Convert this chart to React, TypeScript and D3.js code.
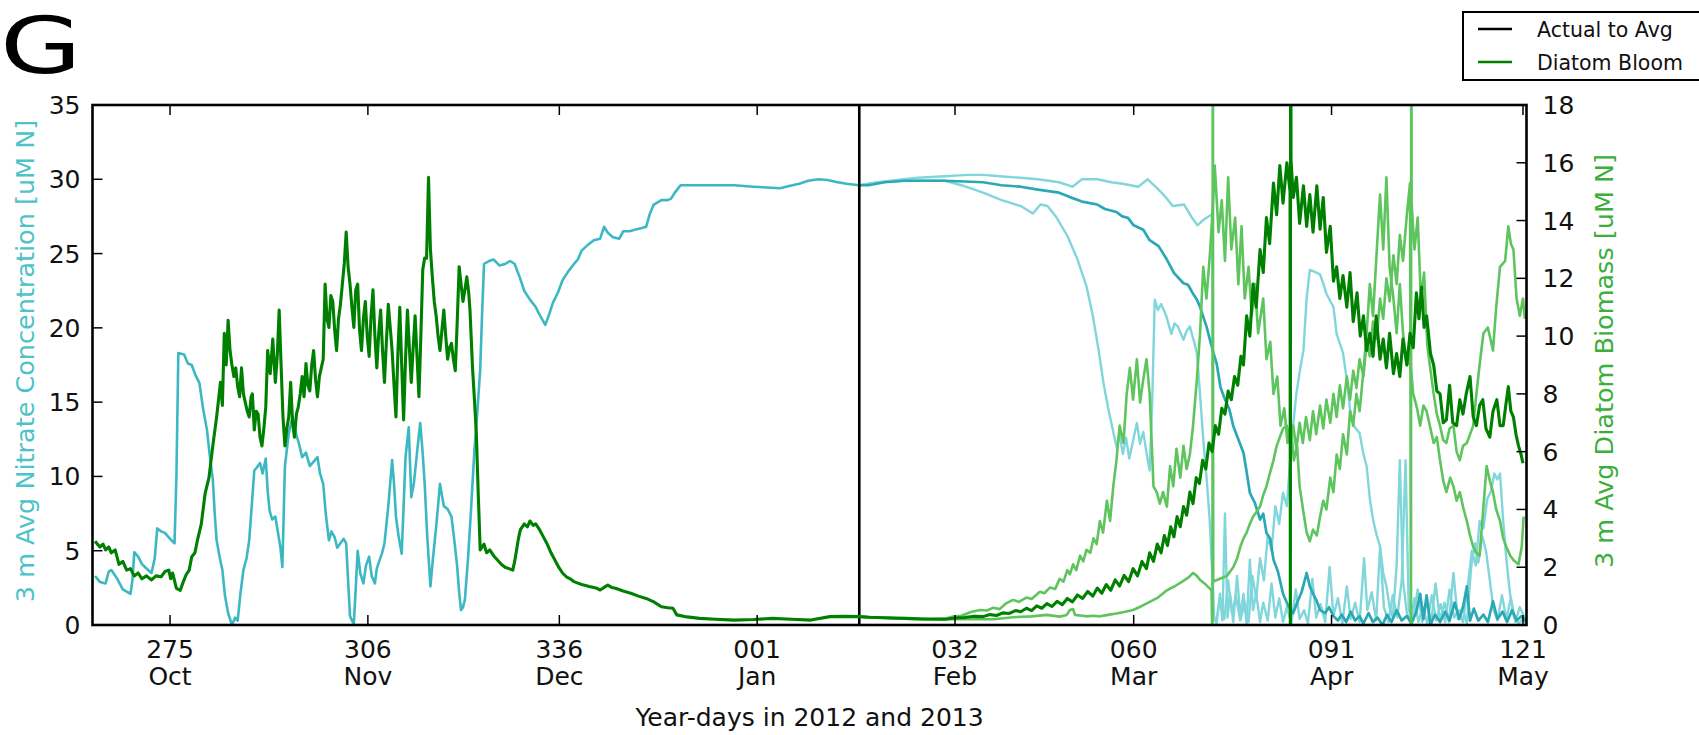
import * as d3 from "d3";

// Year-days run on continuously: 2013 day N is plotted at 366 + N
const tickDays = [275, 306, 336, 367, 398, 426, 457, 487];
const tickDayLabels = ["275", "306", "336", "001", "032", "060", "091", "121"];
const tickMonths = ["Oct", "Nov", "Dec", "Jan", "Feb", "Mar", "Apr", "May"];
const actualToAvgDay = 383;

// [day, uM N] left axis
const nitrateActual = [[263.25,3.3],[264.0,2.9],[264.9,2.8],[265.4,3.6],[265.8,3.7],[266.6,3.2],[267.6,2.4],[268.8,2.1],[269.1,3.0],[269.4,4.9],[270.0,4.6],[270.6,4.1],[271.3,3.8],[272.1,3.5],[272.6,4.5],[273.0,6.5],[273.6,6.3],[274.2,6.2],[275.0,5.8],[275.7,5.5],[276.0,10],[276.3,18.3],[277.2,18.2],[277.8,17.6],[278.4,17.5],[279.0,16.8],[279.6,16.3],[280.2,14.5],[280.8,13.1],[281.2,11.5],[281.7,9.8],[282.0,7.5],[282.3,5.7],[282.8,4.5],[283.2,3.7],[283.6,2.0],[284.1,0.8],[284.7,0],[285.2,0.5],[285.6,0.3],[286.0,2.0],[286.5,3.7],[287.0,4.5],[287.4,5.7],[287.8,8],[288.2,10.4],[288.6,10.6],[289.1,10.9],[289.5,10.2],[290.0,11.2],[290.3,9],[290.6,7.7],[291.0,7.1],[291.5,7.3],[292.0,6.0],[292.3,5.2],[292.6,3.9],[293.0,10.7],[293.6,12.9],[294.2,14.0],[294.8,12.8],[295.2,12.2],[295.7,11.3],[296.3,11.6],[296.9,10.7],[297.5,11.0],[298.1,11.3],[298.5,10.2],[299.0,9.5],[299.4,7.5],[299.9,5.7],[300.3,6.3],[300.8,5.9],[301.2,5.2],[301.7,5.5],[302.2,5.8],[302.6,5.5],[302.9,3],[303.2,0.6],[303.5,0.3],[303.8,0.1],[304.1,2.5],[304.4,5.0],[304.8,3.5],[305.3,2.8],[305.7,4.0],[306.2,4.6],[306.6,3.3],[307.1,2.8],[307.4,3.8],[307.7,4.2],[308.2,4.8],[308.6,5.5],[309.2,8],[309.8,11.1],[310.1,9.5],[310.4,7.3],[310.8,6.0],[311.3,4.8],[311.6,8],[311.9,11.3],[312.4,13.3],[312.8,8.6],[313.2,9.5],[313.7,11.6],[314.2,13.6],[314.6,11.5],[314.9,9.5],[315.3,6],[315.8,2.6],[316.2,4.5],[316.7,6.6],[317.3,9.5],[317.9,8.0],[318.5,7.8],[319.1,7.3],[319.6,5.5],[320.0,3.9],[320.3,2.2],[320.6,1.0],[320.9,1.2],[321.2,1.7],[321.7,4.5],[322.1,7.3],[322.7,11.8],[323.1,14],[323.6,17.2],[323.9,21],[324.2,24.3],[325.0,24.5],[325.7,24.6],[326.6,24.2],[327.5,24.3],[328.3,24.5],[329.0,24.3],[329.8,23.4],[330.5,22.5],[331.4,21.9],[332.3,21.4],[333.0,20.8],[333.8,20.2],[334.4,20.9],[335.0,21.7],[335.8,22.4],[336.5,23.2],[337.4,23.8],[338.3,24.3],[338.9,24.6],[339.5,25.2],[340.5,25.6],[341.4,25.9],[342.4,26.0],[343.0,26.8],[343.6,26.4],[344.4,26.1],[345.4,26.0],[346.0,26.5],[347.0,26.5],[347.8,26.6],[348.8,26.7],[349.6,26.8],[350.2,27.7],[350.8,28.3],[352.0,28.6],[353.0,28.6],[353.5,28.7],[354.1,29.1],[355.0,29.6],[357.0,29.6],[360.0,29.6],[363.4,29.6],[366.4,29.5],[368.5,29.45],[370.6,29.4],[372.0,29.55],[373.6,29.7],[375.0,29.9],[376.6,30.0],[378.0,29.95],[379.6,29.8],[381.0,29.7],[383.0,29.6]];

const nitrateAvg = [[383.0,29.6],[384.4,29.6],[387.0,29.8],[390.0,29.9],[392.2,29.9],[396.4,29.9],[399.5,29.85],[402.4,29.8],[405.3,29.6],[408.3,29.5],[411.0,29.3],[414.3,29.1],[416.0,28.8],[417.9,28.5],[420.3,28.3],[421.5,28.0],[423.3,27.8],[424.2,27.5],[425.1,27.4],[426.0,26.9],[427.5,26.6],[428.5,25.9],[429.9,25.5],[431.2,24.6],[432.3,23.7],[433.8,23.0],[434.5,22.9],[435.3,22.3],[435.9,21.9],[436.4,21.4],[437.4,20.1],[438.5,18.3],[439.0,17.6],[439.6,16.0],[440.2,15.3],[441.0,14.5],[441.6,13.4],[442.3,12.6],[443.2,11.6],[443.7,10.3],[444.2,8.9],[445.0,8.2],[445.8,7.1],[446.3,7.5],[446.8,6.2],[447.4,5.8],[447.9,4.4],[448.6,3.6],[449.4,2.1],[450.2,1.3],[451.0,0.8],[451.6,1.5],[452.3,2.2],[453.1,3.5],[453.6,2.6],[454.1,2.1],[454.7,1.6],[455.2,1.0],[456.0,0.8],[456.6,1.2],[457.3,0.6],[458.0,0.3],[458.6,0.7],[459.3,0.2],[460.0,0.9],[460.7,0.3],[461.4,0.6],[462.0,0.1],[462.8,0.8],[463.5,0.2],[464.2,0.5],[465.0,0],[465.7,0.7],[466.4,0.2],[467.2,1.0],[468.0,0.3],[468.8,0.6],[469.5,0.1],[470.3,0.9],[470.9,2.1],[471.4,0.4],[471.9,2.0],[472.5,0],[473.2,0.7],[474.0,0.2],[474.8,0.9],[475.5,0.3],[476.3,1.5],[477.0,0.4],[477.6,1.2],[478.2,2.6],[478.7,0.3],[479.3,1.1],[480.0,0.3],[480.8,0.7],[481.5,0.2],[482.3,1.6],[483.0,0.4],[483.8,0.9],[484.5,0.2],[485.3,1.0],[486.0,0.3],[486.8,0.6],[487.5,0.2]];

const nitrateEarly = [[383.0,29.6],[386,29.8],[390,29.9],[393,29.9],[396.4,29.9],[399,29.6],[402.4,29.1],[405.3,28.6],[408.3,28.2],[410.2,27.7],[411.4,28.3],[412.5,28.2],[413.8,27.5],[415.6,26.2],[417.2,24.6],[418.6,22.8],[419.6,20.8],[420.5,18.5],[421.3,16.2],[422.0,14.6],[422.7,13.2],[423.3,12.0],[423.8,12.8],[424.3,11.5],[424.8,12.6],[425.3,11.2],[425.9,12.4],[426.5,13.6],[427.0,12.2],[427.5,13.0],[428.0,11.6],[428.5,10.4],[428.9,15],[429.3,21.9],[429.8,21.2],[430.3,21.6],[431.1,20.8],[431.9,19.6],[432.4,20.3],[432.9,20.1],[433.8,19.2],[434.3,19.8],[434.8,20.1],[435.5,19.0],[435.9,18.3],[436.4,15.5],[436.9,12.5],[437.4,10.0],[437.9,7.1],[438.3,3.5],[438.6,0.5],[439.0,0.1],[439.5,2.1],[439.9,0.3],[440.3,7.5],[440.7,0.5],[441.1,2.1],[441.6,0.2],[442.2,3.3],[442.7,0.6],[443.2,2.1],[443.7,0.1],[444.2,4.4],[444.7,1.0],[445.2,2.1],[445.8,0.2],[446.3,1.5],[447.0,0.3],[447.6,2.8],[448.2,0.5],[448.8,1.8],[449.4,0.2],[450.0,1.2],[450.7,0.1],[451.4,2.4],[452.0,0.4],[452.7,1.0],[453.3,0.1],[454.0,3.1],[454.6,0.5],[455.3,1.4],[456.0,0.2],[456.7,3.9],[457.3,0.6],[458.0,1.8],[458.7,0.1],[459.4,2.6],[460.0,0.4],[460.7,1.5],[461.4,0.2],[462.1,4.5],[462.6,1.0],[463.3,2.2],[464.0,0.3],[464.6,5.3],[465.2,1.2],[465.9,0.2],[466.6,2.0],[467.3,0.5],[468.0,3.0],[468.6,11.1],[469.1,1.0],[469.8,0.3],[470.5,2.4],[471.2,0.2],[471.9,1.6],[472.6,0.1],[473.3,2.8],[474.0,0.3],[474.7,1.5],[475.4,0.2],[476.1,3.5],[476.8,0.4],[477.5,1.2],[478.2,0.1],[478.9,4.0],[479.5,5.5],[480.0,4.2],[480.6,6.0],[481.2,5.0],[481.8,3.0],[482.4,1.0],[483.0,0.3],[483.7,2.0],[484.4,0.4],[485.1,1.8],[485.8,0.2],[486.5,1.2],[487.5,0.3]];

const nitrateLate = [[383.0,29.6],[386,29.8],[390,30.0],[392.2,30.1],[396.4,30.2],[400,30.3],[402.4,30.3],[405,30.2],[408.3,30.1],[411,30.0],[414.3,29.8],[416.4,29.5],[417.9,30.0],[420.3,30.0],[422.5,29.8],[424.3,29.7],[426.7,29.5],[428.2,30.0],[429.9,29.3],[431.0,28.8],[432.1,28.2],[433.9,28.3],[435.0,27.5],[436.0,26.9],[437.0,27.3],[438.1,27.6],[438.35,27.7],[438.45,0.3],[439.0,0.5],[439.6,1.8],[440.2,0.4],[440.8,3.0],[441.4,0.8],[442.0,2.0],[442.7,0.3],[443.4,1.5],[444.0,0.2],[444.6,3.3],[445.2,1.8],[445.8,4.5],[446.4,3.0],[447.0,6.0],[447.6,5.0],[448.2,8.0],[448.8,6.8],[449.4,8.9],[450.0,8.0],[450.5,11.0],[451.0,13.5],[451.5,15.6],[452.0,17.0],[452.6,18.5],[453.1,22.0],[453.6,23.9],[454.2,23.8],[455.2,23.6],[455.7,23.0],[456.2,22.3],[457.3,21.4],[457.8,19.6],[458.8,18.3],[459.4,16.5],[459.9,14.5],[460.5,13.4],[461.4,12.9],[462.0,11.5],[462.5,10.7],[463.0,8.5],[463.5,7.1],[464.1,6.0],[464.6,5.3],[465.1,3.5],[465.6,2.6],[466.1,1.2],[466.6,0.5],[467.2,4.0],[467.7,11.1],[468.2,3.0],[468.8,0.8],[469.4,0.3],[470.0,1.8],[470.6,0.2],[471.3,1.2],[472.0,0.1],[472.7,2.0],[473.4,0.3],[474.1,1.4],[474.8,0.2],[475.5,2.4],[476.2,0.5],[476.9,1.0],[477.6,0.2],[478.3,2.5],[479.0,5.0],[479.6,4.0],[480.2,7.0],[480.8,6.5],[481.4,8.5],[482.0,9.0],[482.5,10.2],[483.0,9.8],[483.4,10.2],[483.9,7.0],[484.4,4.4],[485.0,2.0],[485.6,0.5],[486.3,0.1],[487.0,0.4],[487.5,0.1]];

// [day, uM N] right axis
const diatomActual = [[263.25,2.9],[264.0,2.7],[264.5,2.8],[264.9,2.6],[265.4,2.7],[265.8,2.5],[266.4,2.6],[267.0,2.1],[267.6,2.2],[268.2,1.9],[268.8,1.95],[269.4,1.7],[270.0,1.8],[270.6,1.6],[271.3,1.7],[272.1,1.56],[272.8,1.7],[273.6,1.67],[274.2,1.85],[274.8,1.9],[275.1,1.6],[275.4,1.8],[276.0,1.27],[276.6,1.2],[277.0,1.45],[277.5,1.73],[278.0,1.9],[278.4,2.36],[278.9,2.5],[279.3,2.94],[279.9,3.5],[280.5,4.56],[281.1,5.1],[281.7,6.2],[282.3,7.2],[282.9,8.4],[283.2,7.6],[283.5,10.1],[283.8,9.0],[284.1,10.55],[284.4,9.5],[284.7,9.0],[285.0,8.6],[285.3,8.9],[285.6,8.25],[285.9,7.9],[286.2,8.9],[286.5,8.0],[286.8,7.7],[287.1,7.4],[287.4,7.2],[287.7,7.9],[287.9,8.0],[288.2,6.75],[288.5,7.4],[288.8,7.3],[289.1,6.5],[289.4,6.2],[289.7,6.8],[290.0,7.55],[290.3,9.5],[290.7,8.7],[291.1,9.9],[291.5,8.4],[291.8,9.3],[292.1,10.9],[292.4,9.0],[292.7,7.2],[293.0,6.2],[293.3,6.8],[293.6,7.2],[293.9,8.4],[294.2,7.0],[294.5,6.5],[294.8,7.3],[295.1,7.55],[295.4,8.0],[295.7,8.6],[296.0,7.9],[296.3,9.05],[296.6,8.3],[296.9,8.1],[297.2,9.0],[297.5,9.5],[297.8,8.5],[298.1,7.9],[298.4,8.6],[298.7,8.9],[299.0,9.2],[299.3,11.8],[299.6,10.6],[299.9,10.3],[300.2,11.4],[300.5,11.2],[300.8,10.2],[301.1,9.5],[301.4,10.6],[301.7,11.1],[302.0,11.8],[302.3,12.5],[302.6,13.6],[302.9,12.4],[303.2,11.8],[303.5,11.0],[303.8,10.3],[304.1,11.6],[304.4,11.8],[304.7,10.2],[305.0,9.5],[305.3,10.6],[305.6,11.2],[305.9,10.0],[306.2,9.3],[306.5,10.7],[306.8,11.6],[307.1,10.0],[307.4,8.9],[307.7,10.1],[308.0,10.9],[308.3,9.5],[308.6,8.4],[308.9,9.8],[309.2,11.1],[309.5,10.3],[309.8,9.5],[310.1,8.3],[310.4,7.2],[310.7,9.4],[311.0,11.0],[311.3,9.0],[311.6,7.1],[311.9,9.2],[312.2,10.9],[312.5,9.6],[312.8,8.4],[313.1,9.6],[313.4,10.7],[313.7,9.3],[314.0,7.9],[314.3,10.0],[314.6,12.3],[314.9,12.7],[315.2,12.7],[315.5,15.5],[315.8,13.0],[316.1,12.05],[316.4,11.2],[316.7,10.7],[317.0,10.0],[317.3,9.5],[317.6,10.2],[317.9,10.9],[318.2,10.0],[318.5,9.2],[318.8,9.6],[319.1,9.75],[319.4,9.2],[319.7,8.8],[320.0,10.5],[320.3,12.4],[320.6,11.8],[320.9,11.2],[321.2,11.6],[321.5,12.05],[321.8,11.5],[322.0,10.9],[322.4,8.9],[322.7,7.8],[323.0,6.6],[323.3,4.5],[323.6,2.6],[324.2,2.8],[324.6,2.5],[325.1,2.6],[325.7,2.4],[326.3,2.25],[326.9,2.1],[327.5,2.0],[328.1,1.95],[328.7,1.9],[329.0,2.2],[329.3,2.6],[329.6,3.0],[329.9,3.3],[330.2,3.4],[330.5,3.5],[331.0,3.4],[331.4,3.6],[331.9,3.45],[332.3,3.5],[332.9,3.3],[333.5,3.05],[334.1,2.8],[334.7,2.5],[335.3,2.25],[335.9,2.0],[336.5,1.8],[337.1,1.67],[337.7,1.6],[338.3,1.5],[338.9,1.45],[339.5,1.4],[340.7,1.33],[341.9,1.27],[342.4,1.21],[343.0,1.3],[343.6,1.38],[344.2,1.3],[344.8,1.27],[346.0,1.18],[347.2,1.1],[348.4,1.0],[349.6,0.92],[350.8,0.8],[352.0,0.63],[353.0,0.6],[353.8,0.58],[354.4,0.35],[356.0,0.28],[358.0,0.23],[360.5,0.2],[363.4,0.17],[366.4,0.19],[369.4,0.23],[372.4,0.2],[375.4,0.17],[378.4,0.29],[380.6,0.3],[383.0,0.29]];

const diatomAvg = [[383.0,0.29],[384.4,0.27],[387.0,0.25],[390.4,0.23],[393.0,0.21],[396.4,0.2],[398.0,0.24],[399.5,0.26],[401.0,0.3],[402.4,0.29],[403.5,0.36],[404.5,0.33],[405.5,0.42],[406.5,0.4],[407.5,0.5],[408.3,0.46],[409.2,0.58],[410.0,0.5],[410.8,0.66],[411.6,0.58],[412.4,0.74],[413.2,0.64],[414.0,0.82],[414.8,0.7],[415.6,0.92],[416.4,0.8],[417.2,1.04],[418.0,0.92],[418.8,1.16],[419.6,1.0],[420.3,1.28],[421.0,1.1],[421.7,1.4],[422.4,1.2],[423.1,1.56],[423.8,1.35],[424.5,1.72],[425.2,1.5],[425.9,1.95],[426.6,1.7],[427.3,2.2],[428.0,1.95],[428.5,2.5],[429.1,2.2],[429.7,2.8],[430.3,2.5],[430.8,3.1],[431.3,2.75],[431.8,3.4],[432.3,3.05],[432.8,3.75],[433.3,3.4],[433.8,4.1],[434.3,3.8],[434.8,4.6],[435.3,4.2],[435.8,5.1],[436.3,4.9],[436.8,5.7],[437.3,5.4],[437.8,6.3],[438.3,6.0],[438.8,6.9],[439.3,6.6],[439.8,7.5],[440.3,7.3],[440.8,8.1],[441.3,7.8],[441.8,8.6],[442.3,8.3],[442.8,9.3],[443.2,9.0],[443.7,10.7],[444.2,10.0],[444.7,11.8],[445.2,11.0],[445.8,13.0],[446.3,12.2],[446.8,14.1],[447.3,13.2],[447.9,15.3],[448.4,14.2],[448.9,15.9],[449.4,14.6],[450.0,16.0],[450.5,15.0],[450.55,-1],[450.6,30],[450.65,16.1],[451.0,14.8],[451.5,15.5],[452.0,13.9],[452.6,15.2],[453.1,13.8],[453.6,14.9],[454.1,13.6],[454.7,15.2],[455.2,13.7],[455.7,14.8],[456.2,12.9],[456.8,13.8],[457.3,11.9],[457.8,12.4],[458.3,11.3],[458.8,12.1],[459.4,11.0],[459.9,12.2],[460.4,10.5],[461.0,11.5],[461.5,10.0],[462.0,10.7],[462.5,9.5],[463.0,10.1],[463.5,9.3],[464.0,10.7],[464.6,9.2],[465.1,9.9],[465.6,8.9],[466.1,10.1],[466.7,8.7],[467.2,9.4],[467.7,8.6],[468.2,9.9],[468.8,9.0],[469.3,10.1],[469.8,9.6],[470.3,11.5],[470.7,10.6],[471.1,11.7],[471.5,10.3],[471.9,10.7],[472.5,9.4],[473.0,9.0],[473.5,8.1],[474.0,8.0],[474.5,7.0],[475.0,7.1],[475.5,8.3],[476.0,7.0],[476.6,6.9],[477.1,7.8],[477.6,7.3],[478.1,8.0],[478.7,8.6],[479.2,7.2],[479.7,6.9],[480.2,7.6],[480.7,7.8],[481.2,6.8],[481.8,6.5],[482.3,7.4],[482.9,7.8],[483.4,6.9],[483.9,6.9],[484.3,7.6],[484.7,8.25],[485.1,7.4],[485.5,7.2],[485.9,6.6],[486.3,6.2],[486.7,5.9],[487.0,5.6]];

const diatomEarly = [[383.0,0.29],[386,0.25],[390,0.22],[394,0.21],[396.7,0.23],[397.7,0.29],[399,0.32],[400.5,0.45],[401.9,0.52],[403,0.5],[404,0.6],[405,0.55],[406,0.75],[407.1,0.87],[408,0.8],[409.2,0.95],[410,0.9],[411.3,1.15],[412,1.1],[412.9,1.3],[413.7,1.25],[414.4,1.6],[415.0,1.5],[415.6,1.9],[416.0,1.75],[416.5,2.1],[417.0,1.9],[417.6,2.4],[418.1,2.2],[418.6,2.6],[419.2,2.5],[419.7,3.0],[420.2,2.8],[420.7,3.6],[421.2,3.2],[421.8,4.3],[422.3,3.6],[422.8,4.8],[423.3,5.7],[423.8,6.9],[424.4,6.3],[424.9,8.0],[425.4,8.9],[425.9,7.8],[426.5,9.2],[427.0,7.7],[427.5,8.5],[428.0,9.2],[428.5,8.0],[429.1,4.8],[429.6,4.6],[430.1,4.2],[430.6,4.6],[431.2,4.1],[431.7,5.5],[432.2,4.8],[432.7,6.1],[433.3,5.1],[433.8,6.2],[434.3,5.4],[434.8,5.9],[435.3,6.9],[435.9,8.5],[436.4,10.1],[436.9,12.4],[437.4,11.3],[438.0,13.0],[438.4,14.5],[438.7,15.9],[439.3,13.6],[439.8,14.7],[440.3,12.6],[440.8,15.5],[441.3,13.0],[441.9,14.1],[442.4,11.8],[442.9,13.8],[443.4,11.3],[444.0,12.4],[444.5,10.7],[445.0,11.8],[445.5,10.1],[446.3,11.3],[446.8,9.2],[447.4,9.8],[447.9,8.0],[448.5,8.6],[449.0,6.9],[449.6,7.5],[450.1,6.3],[450.6,6.9],[451.1,5.7],[451.6,6.2],[452.0,4.8],[452.6,3.9],[453.1,3.2],[453.6,2.9],[454.1,3.3],[454.7,3.1],[455.2,3.75],[455.7,4.3],[456.2,4.0],[456.8,5.1],[457.3,4.6],[457.8,5.9],[458.3,5.4],[458.8,6.6],[459.4,5.9],[459.9,7.4],[460.4,6.9],[460.9,8.0],[461.4,7.4],[462.0,8.8],[462.5,10.1],[463.0,11.8],[463.5,10.7],[464.1,13.0],[464.6,14.9],[465.1,13.0],[465.6,15.5],[466.1,12.4],[466.7,11.3],[467.2,10.1],[467.7,11.8],[468.2,10.1],[468.8,9.0],[469.3,9.2],[469.8,8.0],[470.4,7.5],[470.9,6.9],[471.4,7.6],[471.9,7.4],[472.5,6.8],[473.0,6.3],[473.5,6.5],[474.0,5.7],[474.5,5.0],[475.0,4.6],[475.6,5.1],[476.1,4.8],[476.6,4.3],[477.1,4.6],[477.7,4.0],[478.2,3.6],[478.7,3.1],[479.2,2.7],[479.7,2.5],[480.2,2.4],[480.7,3.8],[481.3,5.5],[481.8,5.0],[482.3,4.6],[482.8,4.0],[483.4,3.6],[483.9,3.0],[484.4,2.7],[485.0,2.4],[485.5,2.25],[486.0,2.15],[486.3,2.1],[486.8,2.7],[487.1,3.75]];

const diatomLate = [[383.0,0.29],[387,0.25],[391,0.21],[395,0.2],[400,0.2],[404,0.2],[407.1,0.27],[410,0.3],[412.4,0.35],[414.4,0.29],[415.5,0.35],[416.0,0.52],[416.5,0.55],[416.8,0.35],[418.6,0.3],[419.7,0.32],[420.7,0.3],[422.0,0.35],[423.3,0.4],[424.5,0.45],[425.9,0.52],[427.2,0.65],[428.5,0.8],[429.8,0.95],[431.2,1.2],[432.5,1.35],[433.6,1.5],[434.6,1.65],[435.3,1.8],[435.9,1.7],[436.4,1.56],[437.3,1.4],[438.2,1.2],[438.35,-1],[438.4,30],[438.45,1.5],[439.5,1.6],[440.6,1.7],[441.6,2.0],[442.2,2.3],[442.7,2.7],[443.2,3.0],[443.7,3.2],[444.2,3.5],[444.7,3.75],[445.2,3.9],[445.8,4.1],[446.3,4.5],[446.8,4.8],[447.4,5.3],[447.9,5.7],[448.4,6.2],[448.9,6.5],[449.4,6.8],[450.0,6.9],[450.5,6.4],[451.0,6.9],[451.5,6.1],[452.0,7.0],[452.5,6.3],[453.0,7.2],[453.6,6.4],[454.1,7.4],[454.6,6.6],[455.2,7.6],[455.7,6.8],[456.2,7.8],[456.8,7.0],[457.3,8.0],[457.8,7.2],[458.3,8.3],[458.8,7.5],[459.4,8.6],[459.9,7.8],[460.4,8.8],[460.9,8.2],[461.4,9.2],[462.0,8.6],[462.5,9.8],[463.0,9.3],[463.5,10.5],[464.1,9.9],[464.6,11.3],[465.1,10.6],[465.6,12.0],[466.1,11.2],[466.7,12.8],[467.2,11.8],[467.7,13.5],[468.2,12.6],[468.8,14.2],[469.3,15.3],[469.45,-1],[469.5,30],[469.55,14.6],[470.0,13.0],[470.5,14.1],[471.0,11.3],[471.5,12.2],[472.0,9.7],[472.4,9.0],[473.0,8.0],[473.5,7.3],[474.0,6.9],[474.5,6.4],[475.0,6.3],[475.5,6.8],[476.1,6.9],[476.6,6.0],[477.1,5.7],[477.6,6.2],[478.2,6.3],[478.7,6.6],[479.2,6.9],[479.7,8.0],[480.2,9.0],[480.8,10.1],[481.5,10.3],[482.3,9.5],[482.8,11.0],[483.4,12.4],[484.2,12.6],[484.7,13.8],[485.1,13.2],[485.5,13.0],[486.0,11.3],[486.5,10.7],[487.0,11.3],[487.3,10.6]];

const W = 1699;
const H = 735;
const left = 92.5, right = 1526.5, top = 105, bottom = 625;
const font = "DejaVu Sans, sans-serif";

const cNitrate = "#3cb8c2";
const cNitrateAvg = "#2aa9b4";
const cNitrateLight = "#80d6db";
const cDiatom = "#008000";
const cDiatomLight = "#5ec45e";

export default function App() {
  const x = d3.scaleLinear().domain([262.85, 487.55]).range([left, right]);
  const yN = d3.scaleLinear().domain([0, 35]).range([bottom, top]);
  const yD = d3.scaleLinear().domain([0, 18]).range([bottom, top]);

  const lineN = d3.line<number[]>().x((d) => x(d[0])).y((d) => yN(d[1]));
  const lineD = d3.line<number[]>().x((d) => x(d[0])).y((d) => yD(d[1]));

  const nTicks = yN.ticks(7);
  const dTicks = yD.ticks(9);
  const tickLen = 10;

  return (
    <svg width={W} height={H} style={{ position: "absolute", left: 0, top: 0, background: "#fff" }} fontFamily={font}>
      <defs>
        <clipPath id="plot">
          <rect x={left} y={top} width={right - left} height={bottom - top} />
        </clipPath>
      </defs>

      <text transform="translate(0, 73) scale(1.35, 1)" fontSize={78}>G</text>

      <g clipPath="url(#plot)" fill="none" strokeLinejoin="round">
        <path d={lineN(nitrateEarly)!} stroke={cNitrateLight} strokeWidth={2.4} />
        <path d={lineN(nitrateLate)!} stroke={cNitrateLight} strokeWidth={2.4} />
        <path d={lineN(nitrateAvg)!} stroke={cNitrateAvg} strokeWidth={2.7} />
        <path d={lineN(nitrateActual)!} stroke={cNitrate} strokeWidth={2.6} />
        <line x1={x(actualToAvgDay)} x2={x(actualToAvgDay)} y1={top} y2={bottom} stroke="#000" strokeWidth={2.6} />
        <path d={lineD(diatomEarly)!} stroke={cDiatomLight} strokeWidth={2.6} />
        <path d={lineD(diatomLate)!} stroke={cDiatomLight} strokeWidth={2.6} />
        <path d={lineD(diatomAvg)!} stroke={cDiatom} strokeWidth={3.1} />
        <path d={lineD(diatomActual)!} stroke={cDiatom} strokeWidth={3.1} />
      </g>

      {/* ticks, inward on all four sides */}
      <g stroke="#000" strokeWidth={1.5}>
        {tickDays.map((d) => (
          <g key={d}>
            <line x1={x(d)} x2={x(d)} y1={bottom} y2={bottom - tickLen} />
            <line x1={x(d)} x2={x(d)} y1={top} y2={top + tickLen} />
          </g>
        ))}
        {nTicks.map((v) => (
          <line key={v} x1={left} x2={left + tickLen} y1={yN(v)} y2={yN(v)} />
        ))}
        {dTicks.map((v) => (
          <line key={v} x1={right} x2={right - tickLen} y1={yD(v)} y2={yD(v)} />
        ))}
      </g>

      <rect x={left} y={top} width={right - left} height={bottom - top} fill="none" stroke="#000" strokeWidth={2.6} />

      <g fontSize={25} fill="#111">
        {nTicks.map((v) => (
          <text key={v} x={left - 12} y={yN(v)} dy="0.36em" textAnchor="end">{v}</text>
        ))}
        {dTicks.map((v) => (
          <text key={v} x={right + 16} y={yD(v)} dy="0.36em" textAnchor="start">{v}</text>
        ))}
        {tickDays.map((d, i) => (
          <g key={d}>
            <text x={x(d)} y={658} textAnchor="middle">{tickDayLabels[i]}</text>
            <text x={x(d)} y={685} textAnchor="middle">{tickMonths[i]}</text>
          </g>
        ))}
        <text x={(left + right) / 2} y={726} textAnchor="middle">Year-days in 2012 and 2013</text>
      </g>

      <text transform={`translate(34, ${(top + bottom) / 2 - 4}) rotate(-90)`} textAnchor="middle" fontSize={25.5} fill="#4cc3c8">
        3 m Avg Nitrate Concentration [uM N]
      </text>
      <text transform={`translate(1613, ${(top + bottom) / 2 - 4}) rotate(-90)`} textAnchor="middle" fontSize={25.5} fill="#3cae3c">
        3 m Avg Diatom Biomass [uM N]
      </text>

      {/* legend */}
      <g>
        <rect x={1463} y={12} width={300} height={68} fill="#fff" stroke="#000" strokeWidth={2} />
        <line x1={1478} x2={1512} y1={29} y2={29} stroke="#000" strokeWidth={2.6} />
        <line x1={1478} x2={1512} y1={62} y2={62} stroke={cDiatom} strokeWidth={2.6} />
        <text x={1537} y={37} fontSize={20.5} fill="#111">Actual to Avg</text>
        <text x={1537} y={70} fontSize={20.5} fill="#111">Diatom Bloom</text>
      </g>
    </svg>
  );
}
